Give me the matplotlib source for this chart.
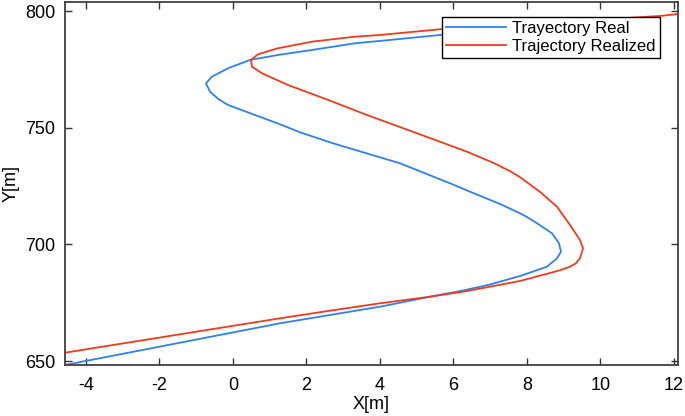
import matplotlib
matplotlib.use("Agg")
import matplotlib.pyplot as plt

plt.rcParams['font.family'] = ['Liberation Sans', 'DejaVu Sans']
plt.rcParams['axes.unicode_minus'] = False

# Trajectory Real (blue)
real_x = [-4.571, 1.279, 2.639, 4.000, 5.361, 6.259, 6.993, 7.810, 8.544, 8.816, 8.925, 8.871,
          8.680, 8.272, 8.000, 7.810, 7.265, 6.449, 5.905, 4.544, 2.721, 1.823, 1.279, 0.599,
          -0.136, -0.400, -0.626, -0.735, -0.571, -0.136, 0.463, 1.224, 2.150, 3.320, 4.272, 5.633, 6.720]
real_y = [648.29, 666.16, 669.72, 673.27, 677.56, 680.20, 682.79, 686.43, 690.42, 694.02, 696.85, 700.45,
          704.74, 709.02, 711.72, 713.31, 717.29, 722.57, 726.17, 734.74, 743.31, 748.03, 751.46, 755.44,
          759.73, 762.30, 765.43, 769.03, 771.86, 775.46, 779.02, 781.16, 783.30, 786.17, 787.59, 789.73, 791.20]

# Trajectory Realized (red)
realized_x = [-4.571, 1.279, 2.639, 4.000, 5.361, 6.259, 6.993, 7.810, 8.544, 8.898, 9.170, 9.333, 9.442, 9.524,
              9.442, 9.170, 8.816, 8.354, 7.810, 7.537, 7.075, 6.367, 5.007, 3.646, 2.639, 1.497,
              0.789, 0.517, 0.490, 0.680, 1.224, 2.150, 3.320, 4.000, 5.633, 11.619, 12.109]
realized_y = [653.56, 668.30, 671.56, 674.73, 677.56, 679.70, 681.85, 684.30, 687.38, 688.90, 690.42, 691.90, 694.02, 698.31,
              701.86, 708.29, 716.14, 722.50, 728.80, 731.40, 735.00, 739.71, 747.60, 755.44, 761.60, 768.30,
              773.32, 776.14, 779.02, 781.46, 784.03, 786.86, 789.00, 789.73, 792.17, 797.87, 798.71]

xticks = [-4, -2, 0, 2, 4, 6, 8, 10, 12]
yticks = [650, 700, 750, 800]

fig = plt.figure(figsize=(6.85, 4.16), dpi=100)
ax = fig.add_axes([65/685, 1-365/416, 613/685, 363/416])

ax.plot(real_x, real_y, color='#2f80f0', lw=1.3, label='Trayectory Real')
ax.plot(realized_x, realized_y, color='#ee3c1e', lw=1.3, label='Trajectory Realized')

ax.set_xlim(-4.571, 12.109)
ax.set_ylim(648.29, 803.86)
ax.set_xticks(xticks)
ax.set_yticks(yticks)
ax.tick_params(direction='in', top=True, right=True, length=5, width=1.0,
               labelsize=13, colors='#333333', labelcolor='black')
ax.tick_params(axis='x', pad=9)
ax.tick_params(axis='y', pad=7)
for s in ax.spines.values():
    s.set_color('#404040')
    s.set_linewidth(1.3)

ax.set_xlabel('X[m]', fontsize=13, labelpad=1)
ax.set_ylabel('Y[m]', fontsize=13, labelpad=4)

leg = ax.legend(loc='upper right', bbox_to_anchor=(0.9706, 0.9587), borderaxespad=0,
                fancybox=False, framealpha=1, edgecolor='black', fontsize=12,
                handlelength=3.6, handletextpad=0.35, borderpad=0.25, labelspacing=0.15)
leg.get_frame().set_linewidth(1.0)

fig.savefig('out.png', dpi=100)
